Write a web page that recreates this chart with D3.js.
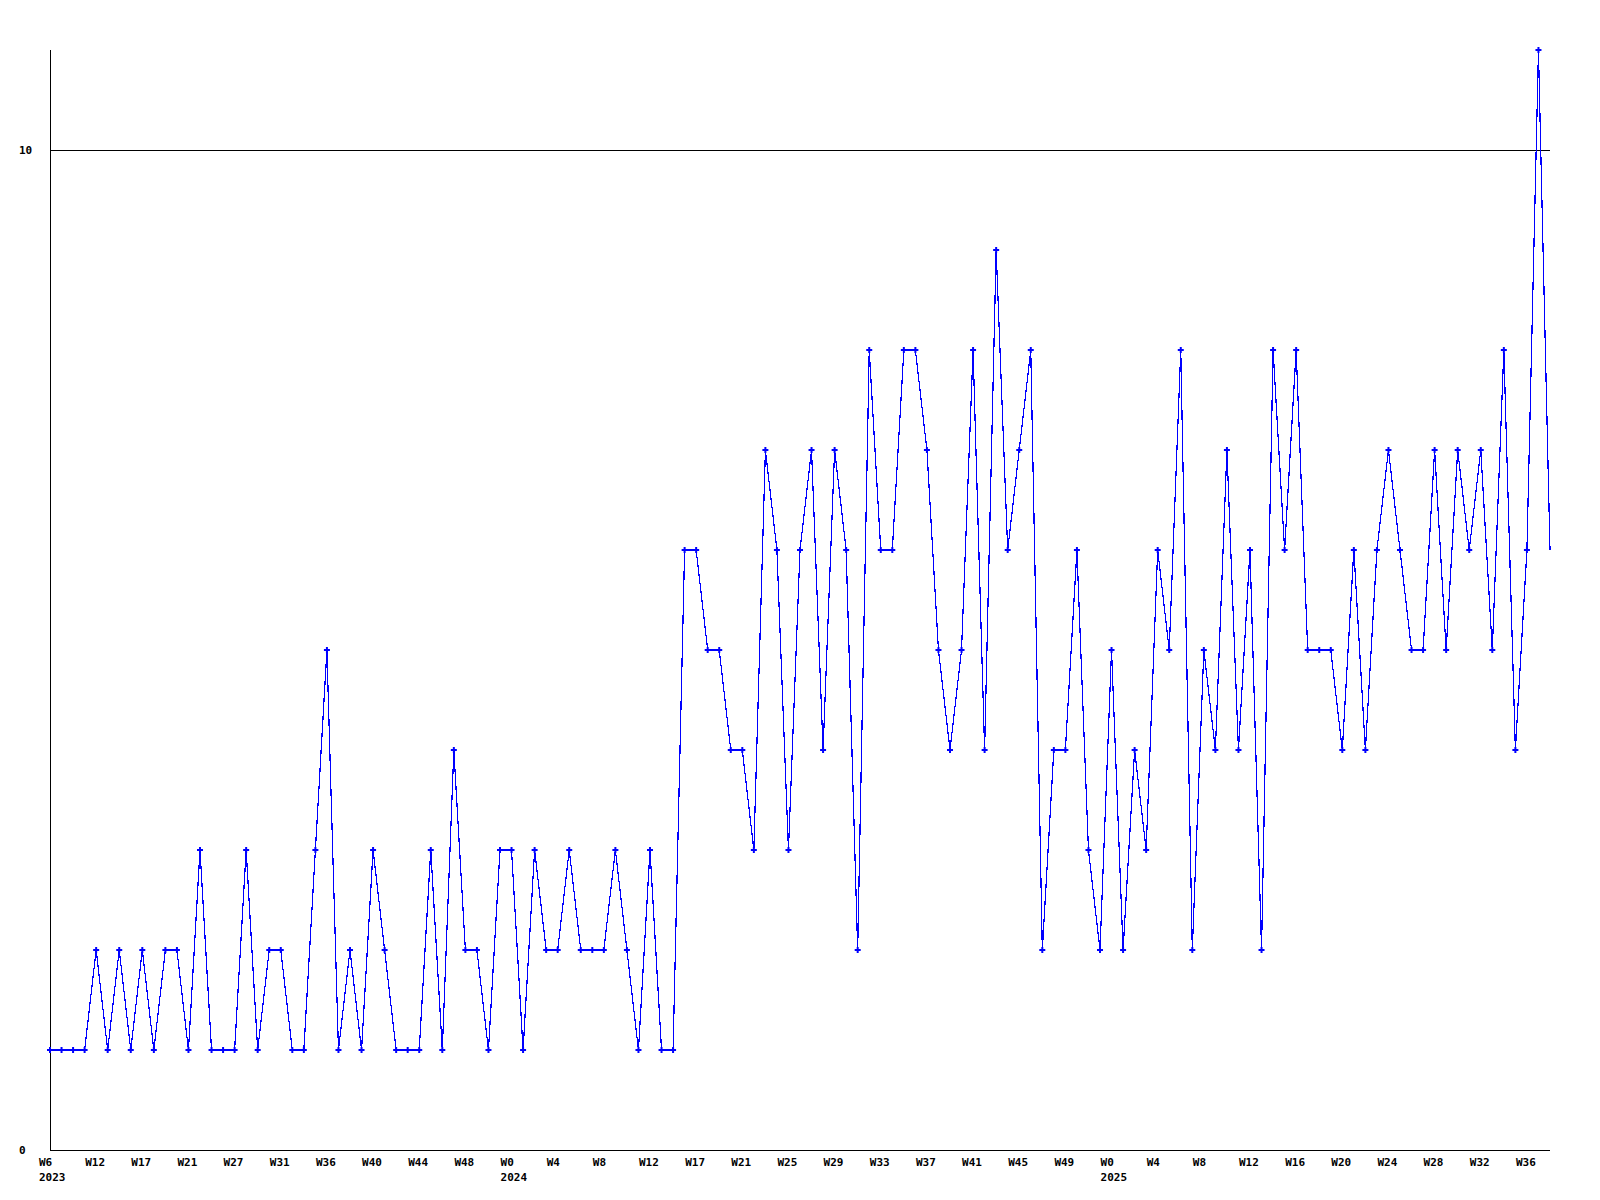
<!DOCTYPE html>
<html>
<head>
<meta charset="utf-8">
<script src="https://cdn.jsdelivr.net/npm/d3@7"></script>
<style>
  html, body { margin: 0; padding: 0; background: #fff; }
  svg { display: block; }
  text { font-family: "DejaVu Sans Mono", "Liberation Mono", monospace; font-weight: bold; font-size: 11px; fill: #000; }
</style>
</head>
<body>
<script>
// ---- data ----
const values = [
  1,1,1,1,2,1,2,1,2,1,
  2,2,1,3,1,1,1,3,1,2,
  2,1,1,3,5,1,2,1,3,2,
  1,1,1,3,1,4,2,2,1,3,
  3,1,3,2,2,3,2,2,2,3,
  2,1,3,1,1,6,6,5,5,4,
  4,3,7,6,3,6,7,4,7,6,
  2,8,6,6,8,8,7,5,4,5,
  8,4,9,6,7,8,2,4,4,6,
  3,2,5,2,4,3,6,5,8,2,
  5,4,7,4,6,2,8,6,8,5,
  5,5,4,6,4,6,7,6,5,5,
  7,5,7,6,7,5,8,4,6,11,
  6
];
const weekLabels = ["W6","W12","W17","W21","W27","W31","W36","W40","W44","W48",
  "W0","W4","W8","W12","W17","W21","W25","W29","W33","W37","W41","W45","W49",
  "W0","W4","W8","W12","W16","W20","W24","W28","W32","W36"];
const labelStep = 4;
const yearLabels = [{label: "2023", at: 0}, {label: "2024", at: 10}, {label: "2025", at: 23}];
const yTicks = [0, 10];

// ---- chart ----
(function () {
const W = 1600, H = 1200;
const mLeft = 50, mRight = 1550, mTop = 50, mBottom = 1150;

const svg = d3.select("body").append("svg").attr("width", W).attr("height", H);

const x = d3.scaleLinear().domain([0, values.length - 1]).range([mLeft, mRight]);
const y = d3.scaleLinear().domain([0, 11]).range([mBottom, mTop]);

// gridline at 10
svg.append("g").selectAll("line").data(yTicks.filter(d => d > 0)).join("line")
  .attr("x1", mLeft).attr("x2", mRight)
  .attr("y1", d => Math.round(y(d)) + 0.5).attr("y2", d => Math.round(y(d)) + 0.5)
  .attr("stroke", "#000").attr("stroke-width", 1).attr("shape-rendering", "crispEdges");

// axes lines
svg.append("line").attr("x1", mLeft + 0.5).attr("x2", mLeft + 0.5).attr("y1", mTop).attr("y2", mBottom)
  .attr("stroke", "#000").attr("shape-rendering", "crispEdges");
svg.append("line").attr("x1", mLeft).attr("x2", mRight).attr("y1", mBottom + 0.5).attr("y2", mBottom + 0.5)
  .attr("stroke", "#000").attr("shape-rendering", "crispEdges");

// y labels
svg.append("g").selectAll("text").data(yTicks).join("text")
  .attr("x", 19).attr("y", d => y(d) + 4)
  .text(d => d);

// x labels
const xl = svg.append("g");
xl.selectAll("text.wk").data(weekLabels).join("text").attr("class", "wk")
  .attr("x", (d, i) => x(i * labelStep) - 11).attr("y", 1166)
  .text(d => d);
xl.selectAll("text.yr").data(yearLabels).join("text").attr("class", "yr")
  .attr("x", d => x(d.at * labelStep) - 11).attr("y", 1181)
  .text(d => d.label);

// line
const line = d3.line().x((d, i) => x(i)).y(d => y(d));
svg.append("path").datum(values)
  .attr("d", line).attr("fill", "none").attr("stroke", "#0000ff").attr("stroke-width", 1.2)
  .attr("shape-rendering", "crispEdges");

// markers (last point has none)
const sym = d3.symbol().type(d3.symbolCross).size(20);
svg.append("g").selectAll("path").data(values.slice(0, values.length - 1)).join("path")
  .attr("transform", (d, i) => `translate(${x(i)},${y(d)})`)
  .attr("d", sym).attr("fill", "#0000ff");
})();
</script>
</body>
</html>
